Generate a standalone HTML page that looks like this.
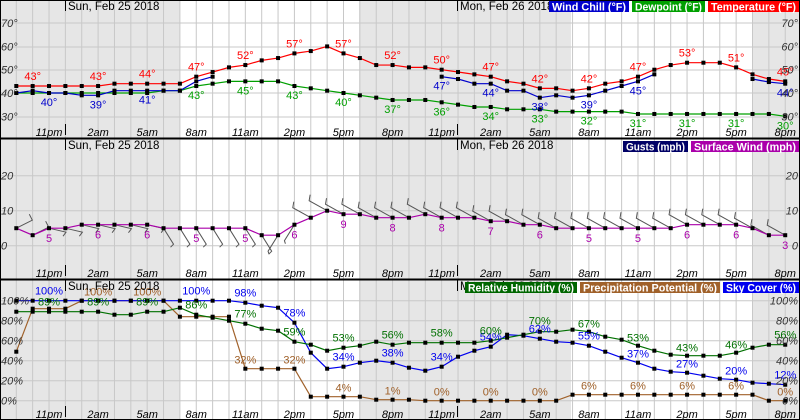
<!DOCTYPE html>
<html><head><meta charset="utf-8"><style>
html,body{margin:0;padding:0;background:#fff}
svg{display:block;font-family:"Liberation Sans",Arial,sans-serif}
</style></head><body>
<svg id="s" width="800" height="420" viewBox="0 0 800 420" xmlns="http://www.w3.org/2000/svg"></svg>
<script>
const S=document.getElementById('s');let h='';
const X=k=>16.3+16.36*k;
const panels=[{t:0,b:138},{t:139,b:279},{t:280,b:420}];
for(const p of panels){
 h+=`<rect x="0" y="${p.t}" width="180" height="${p.b-p.t}" fill="#e6e6e6"/>`;
 h+=`<rect x="359" y="${p.t}" width="212" height="${p.b-p.t}" fill="#e6e6e6"/>`;
 h+=`<rect x="752" y="${p.t}" width="48" height="${p.b-p.t}" fill="#e6e6e6"/>`;
 for(let k=0;k<48;k++)h+=`<line x1="${X(k)}" y1="${p.t}" x2="${X(k)}" y2="${p.b}" stroke="#c8c8c8"/>`;
}
function hl(ys){for(const y of ys)h+=`<line x1="0" y1="${y}" x2="800" y2="${y}" stroke="#c8c8c8"/>`}
const yT=T=>93-(T-40)*2.33, yW=w=>245.7-3.5*w, yP=p=>400.7-p;
hl([23,47,70,93,117]);hl([175.7,210.7,245.7]);hl([300.7,320.7,340.7,360.7,380.7,400.7]);
h+=`<line x1="0" y1="138.5" x2="800" y2="138.5" stroke="#000" stroke-width="2"/><line x1="0" y1="279.5" x2="800" y2="279.5" stroke="#000" stroke-width="2"/>`;
h+=`<rect x="0.5" y="0.5" width="799" height="419" fill="none" stroke="#000"/>`;
function series(vals,yf,col,start=0){let pts=[];vals.forEach((v,i)=>{if(v!==null)pts.push([X(i+start),yf(v)])});
 h+=`<polyline points="${pts.map(p=>p.join(',')).join(' ')}" fill="none" stroke="${col}" stroke-width="1.2"/>`;
 for(const p of pts)h+=`<rect x="${p[0]-2}" y="${p[1]-2}" width="4" height="4" fill="#000"/>`;}
function lab(list,col,dy,yf,suf){for(const [k,v,vv] of list){h+=`<text x="${X(k)}" y="${yf(vv!==undefined?vv:v)+dy}" fill="${col}" font-size="11" text-anchor="middle">${v}${suf}</text>`}}
const T=[43,43,43,43,43,43,44,44,44,44,44,47,49,51,52,54,55,57,58,60,57,55,52,52,51,51,50,49,48,47,45,44,42,42,41,42,44,45,47,50,52,53,53,53,51,48,46,45];
const D=[40,40,40,40,40,40,40,40,40,41,41,43,44,45,45,45,45,43,42,41,40,39,38,37,37,37,36,35,34,34,33,33,33,32,32,32,32,32,31,31,31,31,31,31,31,31,31,30];
series(D,yT,'#00a000');
series([40,41,40,40,39,39,41,41,41,41,41,45,47],yT,'#0000cc');
series([47,46,44,44,41,41,38,39,38,39,41,43,45,48],yT,'#0000cc',26);
series([46,44.7,44],yT,'#0000cc',45);
series(T,yT,'#ff0000');
const tl=[1,5,8,11,14,17,20,23,26,29,32,35,38,41,44,47];
lab(tl.map(k=>[k,T[k]]),'#ff0000',-6,yT,'°');
lab([11,14,17,20,23,26,29,32,35,38,41,44,47].map(k=>[k,D[k]]),'#00a000',13,yT,'°');
lab([[2,40,40],[5,39,39],[8,41,41],[26,47,47],[29,44,44],[32,38,38],[35,39,39],[38,45,45],[47,44,44]],'#0000cc',13,yT,'°');
const W=[5,3,5,5,6,6,6,6,6,5,5,5,5,5,5,3,3,6,8,10,9,9,8,8,8,9,8,8,8,7,7,6,6,5,5,5,5,5,5,5,5,6,6,6,6,5,3,3];
for(let k=0;k<48;k++){const x=X(k),y=yW(W[k]);let dx,dy;
 if(k<2){dx=16;dy=-8}else if(k<9){dx=17;dy=4}else if(k<16){dx=10;dy=16}else if(k<18){dx=-10;dy=16}else{dx=-18;dy=-10}
 const ex=x+dx,ey=y+dy;const bx=ex+(dx<0?1:-3),by=ey+(dy<0?-6:(k<9?4:3));
 h+=`<polyline points="${x},${y} ${ex},${ey} ${bx},${by}" fill="none" stroke="#555" stroke-width="1"/>`;}
series(W,yW,'#aa00aa');
lab([2,5,8,11,14,17,20,23,26,29,32,35,38,41,44,47].map(k=>[k,W[k]]),'#aa00aa',14,yW,'');
const R=[89,89,89,89,89,89,86,86,89,89,93,86,83,80,77,72,70,59,56,50,53,55,59,56,58,58,58,58,58,60,63,66,69,69,71,69,64,61,55,50,46,45,45,45,48,53,56,56];
const P=[49,92,92,92,100,100,100,100,100,100,84,84,84,84,32,32,32,32,4,4,4,4,1,1,1,0,0,0,0,0,0,0,0,0,6,6,6,6,6,6,6,6,6,6,6,6,0,0];
const C=[100,100,100,100,100,100,100,100,100,100,100,100,100,100,98,95,93,78,48,32,34,38,40,38,33,30,34,44,50,54,66,65,62,59,58,55,49,43,38,32,29,28,25,22,21,18,17,16];
series(P,yP,'#a0612a');series(C,yP,'#0000ee');series(R,yP,'#007000');
lab([[5,100],[8,100],[14,32],[17,32],[20,4],[23,1],[26,0],[29,0],[32,0],[35,6],[38,6],[41,6],[44,6],[47,0]],'#a0612a',-5,yP,'%');
lab([[2,100,100],[11,100,100],[14,98,98],[17,78,78],[20,34,34],[23,38,38],[26,34,34],[29,54,54],[32,62,62],[35,55,55],[38,37,37],[41,27,27],[44,20,20],[47,12,16]],'#0000ee',-6,yP,'%');
lab([[2,89,89],[5,89,89],[8,89,89],[11,86,86],[14,77,77],[17,59,59],[20,53,53],[23,56,56],[26,58,58],[29,60,60],[32,70,70],[35,67,67],[38,53,53],[41,43,43],[44,46,46],[47,56,56]],'#007000',-6,yP,'%');
const hrs=['11pm','2am','5am','8am','11am','2pm','5pm','8pm','11pm','2am','5am','8am','11am','2pm','5pm','8pm'];
for(const p of panels){hrs.forEach((t,i)=>{h+=`<text x="${X(2+3*i)}" y="${p.b-2}" font-size="11" font-style="italic" text-anchor="middle">${t}</text>`});
 h+=`<line x1="65.5" y1="${p.b-14}" x2="65.5" y2="${p.b-3}" stroke="#000"/><line x1="65.5" y1="${p.t}" x2="65.5" y2="${p.t+11}" stroke="#000"/><line x1="457.5" y1="${p.b-14}" x2="457.5" y2="${p.b-3}" stroke="#000"/><line x1="457.5" y1="${p.t}" x2="457.5" y2="${p.t+11}" stroke="#000"/>`;
 h+=`<text x="68" y="${p.t+10}" font-size="11.5">Sun, Feb 25 2018</text><text x="460" y="${p.t+10}" font-size="11.5">Mon, Feb 26 2018</text>`;}
function yl(list,yf,suf){for(const v of list){h+=`<text x="1" y="${yf(v)+4}" font-size="11" font-style="italic" fill="#333">${v}${suf}</text><text x="798" y="${yf(v)+4}" font-size="11" font-style="italic" fill="#333" text-anchor="end">${v}${suf}</text>`}}
yl([70,60,50,40,30],yT,'°');yl([20,10,0],yW,'');yl([100,80,60,40,20,0],yP,'%');
function leg(x,y,w,bg,t){h+=`<rect x="${x}" y="${y}" width="${w}" height="11" fill="${bg}"/><text x="${x+3}" y="${y+9.5}" font-size="11" font-weight="bold" fill="#fff" textLength="${w-6}" lengthAdjust="spacingAndGlyphs">${t}</text>`}
leg(549,1,80,'#0000cc','Wind Chill (°F)');leg(632,1,73,'#00a000','Dewpoint (°F)');leg(708,1,91,'#ff0000','Temperature (°F)');
leg(623,141,65,'#000066','Gusts (mph)');leg(691,141,108,'#aa00aa','Surface Wind (mph)');
leg(465,282,112,'#006600','Relative Humidity (%)');leg(580,282,140,'#a0612a','Precipitation Potential (%)');leg(723,282,76,'#0000ee','Sky Cover (%)');
S.innerHTML=h;
</script>
</body></html>
